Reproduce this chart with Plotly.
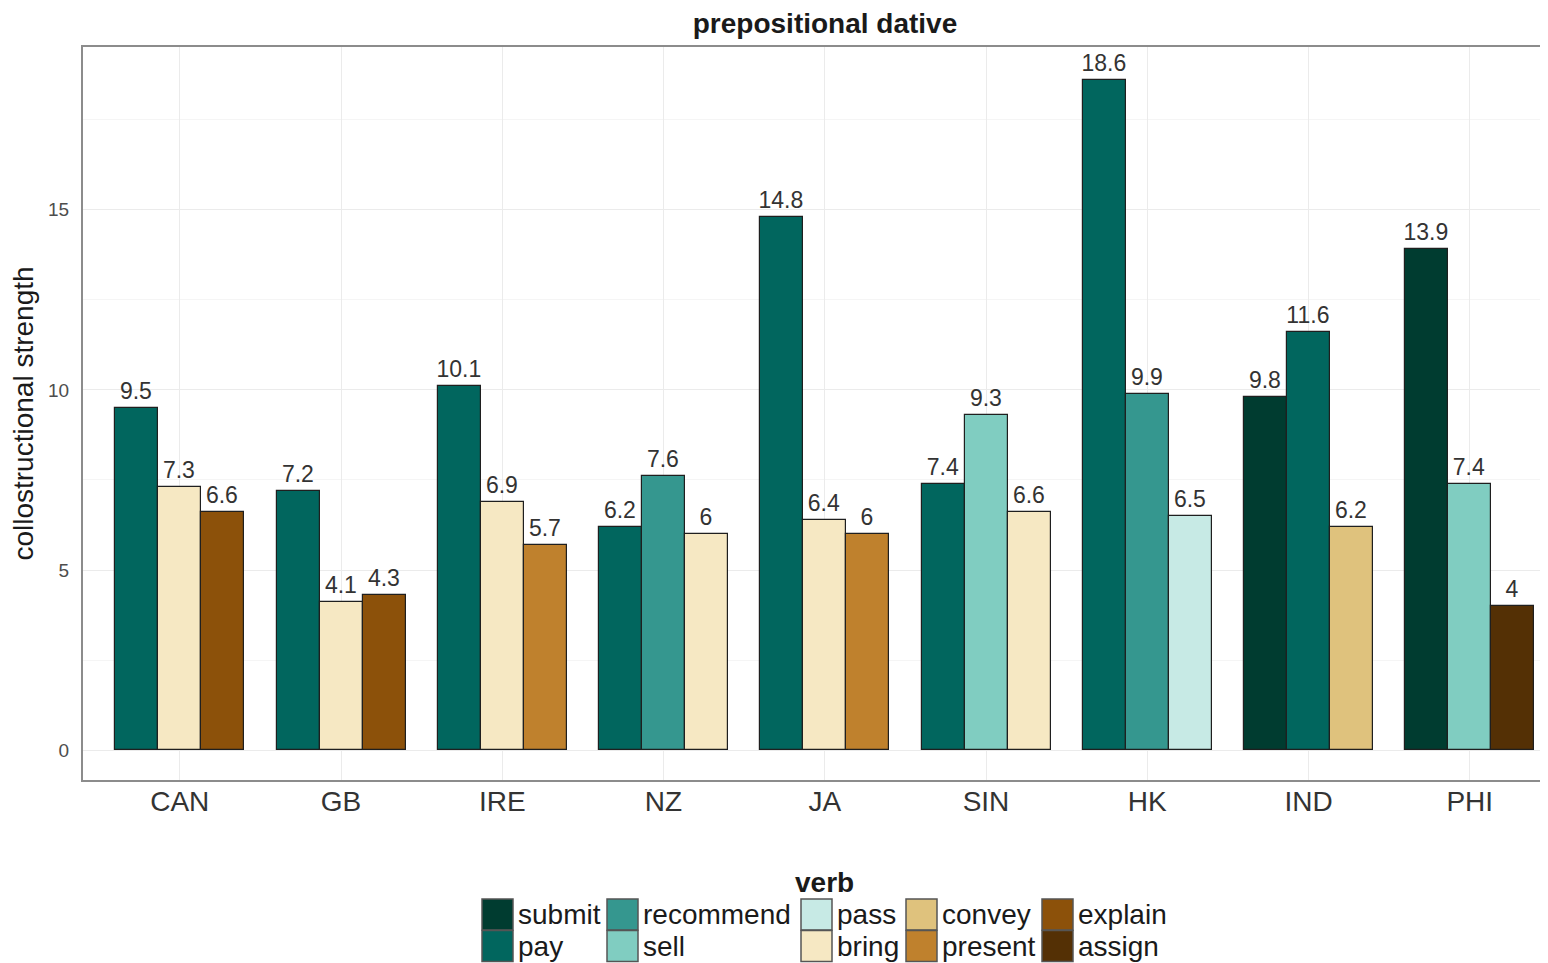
import plotly.graph_objects as go

# ---------------- data ----------------
categories = ["CAN", "GB", "IRE", "NZ", "JA", "SIN", "HK", "IND", "PHI"]
verbs = ["submit", "pay", "recommend", "sell", "pass",
         "bring", "convey", "present", "explain", "assign"]
verb_colors = ["#003c30", "#01665e", "#35978f", "#80cdc1", "#c7eae5",
               "#f6e8c3", "#dfc27d", "#bf812d", "#8c510a", "#543005"]

country = ["CAN", "CAN", "CAN", "GB", "GB", "GB", "IRE", "IRE", "IRE",
           "NZ", "NZ", "NZ", "JA", "JA", "JA", "SIN", "SIN", "SIN",
           "HK", "HK", "HK", "IND", "IND", "IND", "PHI", "PHI", "PHI"]
verb = ["pay", "bring", "explain", "pay", "bring", "explain", "pay", "bring", "present",
        "pay", "recommend", "bring", "pay", "bring", "present", "pay", "sell", "bring",
        "pay", "recommend", "pass", "submit", "pay", "convey", "submit", "sell", "assign"]
strength = [9.5, 7.3, 6.6, 7.2, 4.1, 4.3, 10.1, 6.9, 5.7,
            6.2, 7.6, 6.0, 14.8, 6.4, 6.0, 7.4, 9.3, 6.6,
            18.6, 9.9, 6.5, 9.8, 11.6, 6.2, 13.9, 7.4, 4.0]

y_ticks = [0, 5, 10, 15]

# ---------------- layout constants ----------------
FONT = "Liberation Sans, Arial, Helvetica, sans-serif"
OFF = 8                      # page body margin offset
W, H = 1548 - OFF, 963 - OFF
ML, MR, MT = 83 - OFF, 0, 47 - OFF
PLOT_BOTTOM = 780 - OFF
MB = H - PLOT_BOTTOM
PW, PH = W - ML - MR, H - MT - MB
DODGE = 0.8
CAT_PX = 161.25


def px_x(p):  # p: page pixel
    return (p - OFF - ML) / PW


def px_y(p):
    return (PLOT_BOTTOM - (p - OFF)) / PH


# dodge positions (order within a country follows verb factor order)
xpos = [0.0] * len(country)
bar_w = 0.0
for ci, c in enumerate(categories):
    idx = [i for i in range(len(country)) if country[i] == c]
    idx.sort(key=lambda i: verbs.index(verb[i]))
    n = len(idx)
    bar_w = DODGE / n
    for k, i in enumerate(idx):
        xpos[i] = ci + (k - (n - 1) / 2) * bar_w

fig = go.Figure()
for v, col in zip(verbs, verb_colors):
    sel = [i for i in range(len(verb)) if verb[i] == v]
    if not sel:
        continue
    fig.add_trace(go.Bar(
        name=v,
        x=[xpos[i] for i in sel],
        y=[strength[i] for i in sel],
        width=bar_w,
        marker=dict(color=col, line=dict(color="#1f1f1f", width=1.2)),
        text=[strength[i] for i in sel],
        texttemplate="%{y}",
        textposition="outside",
        constraintext="none",
        cliponaxis=False,
        textfont=dict(family=FONT, size=23, color="#333333"),
        showlegend=False,
        hoverinfo="name+y",
    ))

# ---------------- manual legend (ggplot style, 2 rows column-major) ----------------
shapes = []
annotations = []
col_left_px = [482, 607, 801, 906, 1042]
row_top_px = [899, 930.5]
key = 31
for i, (v, col) in enumerate(zip(verbs, verb_colors)):
    c, r = i // 2, i % 2
    x0 = col_left_px[c]
    y0 = row_top_px[r]
    shapes.append(dict(
        type="rect", xref="paper", yref="paper",
        x0=px_x(x0), x1=px_x(x0 + key),
        y0=px_y(y0), y1=px_y(y0 + key),
        fillcolor=col, line=dict(color="#555555", width=1.5), layer="above",
    ))
    annotations.append(dict(
        xref="paper", yref="paper", x=px_x(x0 + key + 3), y=px_y(y0 + key / 2),
        text=v, showarrow=False, xanchor="left", yanchor="middle",
        font=dict(family=FONT, size=28, color="#1a1a1a"),
    ))
annotations.append(dict(
    xref="paper", yref="paper", x=px_x(824), y=px_y(882),
    text="<b>verb</b>", showarrow=False, xanchor="center", yanchor="middle",
    font=dict(family=FONT, size=28, color="#1a1a1a"),
))

fig.update_layout(
    width=W, height=H, autosize=False,
    margin=dict(l=ML, r=MR, t=MT, b=MB, pad=0),
    paper_bgcolor="white", plot_bgcolor="white",
    font=dict(family=FONT),
    title=dict(
        text="prepositional dative",
        x=(825 - OFF) / W, xref="container", xanchor="center",
        y=1 - (23 - OFF) / H, yref="container", yanchor="middle",
        font=dict(family=FONT, size=28, color="#1a1a1a", weight="bold"),
    ),
    xaxis=dict(
        range=[-0.6, -0.6 + PW / CAT_PX],
        tickmode="array", tickvals=list(range(len(categories))), ticktext=categories,
        tickfont=dict(family=FONT, size=28, color="#333333"),
        showgrid=True, gridcolor="#ebebeb", gridwidth=1,
        showline=True, linecolor="#8c8c8c", linewidth=2, mirror=True,
        ticks="", ticklabelstandoff=-5, zeroline=False, automargin=False,
    ),
    yaxis=dict(
        range=[-0.83, 19.52],
        tickmode="array", tickvals=y_ticks,
        tickfont=dict(family=FONT, size=19, color="#4d4d4d"),
        showgrid=True, gridcolor="#ebebeb", gridwidth=1,
        minor=dict(tick0=0, dtick=2.5, showgrid=True, gridcolor="#f5f5f5", gridwidth=1),
        showline=True, linecolor="#8c8c8c", linewidth=2, mirror=False,
        ticks="", ticklabelstandoff=8, zeroline=False, automargin=False,
        title=dict(text="collostructional strength", standoff=6,
                   font=dict(family=FONT, size=28, color="#1a1a1a")),
    ),
    shapes=shapes,
    annotations=annotations,
    bargap=0,
)

fig.write_html("out.html")
